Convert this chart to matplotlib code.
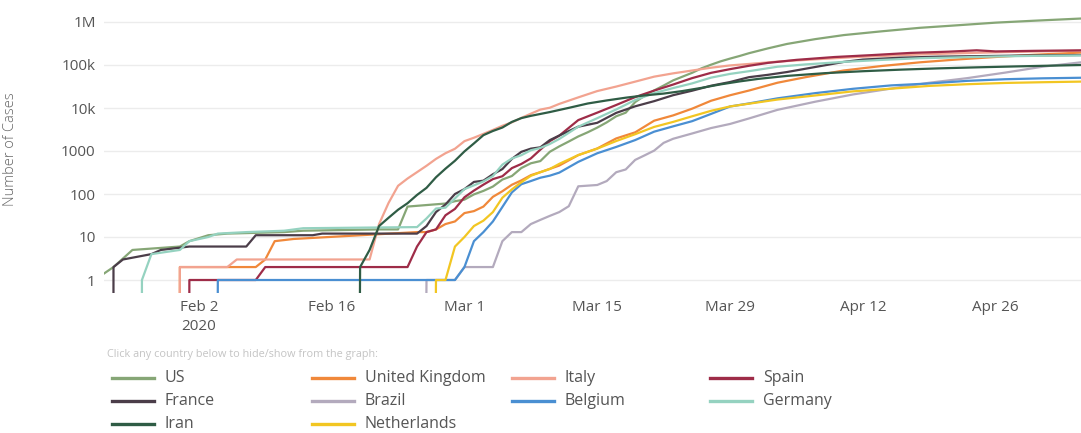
import matplotlib
matplotlib.use('Agg')
import matplotlib.pyplot as plt
import pandas as pd
from matplotlib.lines import Line2D
from matplotlib.ticker import NullLocator

plt.rcParams['font.family'] = ['Open Sans', 'DejaVu Sans']

# cumulative confirmed cases (log scale)
US_DATES = ['01-22', '01-24', '01-26', '01-31', '02-01', '02-03', '02-05', '02-11', '02-13', '02-21',
            '02-23', '02-24', '02-28', '02-29', '03-01', '03-02', '03-03', '03-04', '03-05', '03-06',
            '03-07', '03-08', '03-09', '03-10', '03-11', '03-12', '03-13', '03-14', '03-15', '03-16',
            '03-17', '03-18', '03-19', '03-20', '03-21', '03-22', '03-23', '03-24', '03-25', '03-26',
            '03-27', '03-28', '03-29', '03-30', '03-31', '04-02', '04-04', '04-07', '04-10', '04-14',
            '04-18', '04-22', '04-26', '04-30', '05-05']
US_CASES = [1, 2, 5, 6, 8, 11, 12, 13, 14, 15,
            15, 51, 60, 68, 74, 98, 118, 149, 217, 262,
            402, 518, 583, 959, 1281, 1663, 2179, 2727, 3499, 4632,
            6421, 7783, 13747, 19273, 25600, 33276, 43847, 53740, 65778, 83836,
            101657, 121478, 140886, 161807, 188172, 243622, 308650, 400335, 496535, 607670,
            732197, 839675, 965785, 1069424, 1204351]

UK_DATES = ['01-22', '01-31', '02-08', '02-09', '02-10', '02-12', '02-25', '02-26', '02-27', '02-28',
            '02-29', '03-01', '03-02', '03-03', '03-04', '03-05', '03-06', '03-07', '03-08', '03-09',
            '03-10', '03-11', '03-13', '03-15', '03-17', '03-19', '03-21', '03-23', '03-25', '03-27',
            '03-29', '03-31', '04-03', '04-06', '04-10', '04-14', '04-18', '04-22', '04-26', '04-30',
            '05-05']
UK_CASES = [0, 2, 2, 3, 8, 9, 13, 13, 15, 20,
            23, 36, 40, 51, 86, 116, 164, 207, 274, 322,
            384, 459, 802, 1145, 1960, 2716, 5067, 6726, 9640, 14745,
            19780, 25481, 38689, 52279, 74605, 94845, 115314, 134638, 153638, 172481,
            195000]

IT_DATES = ['01-22', '01-31', '02-05', '02-06', '02-20', '02-21', '02-22', '02-23', '02-24', '02-25',
            '02-26', '02-27', '02-28', '02-29', '03-01', '03-02', '03-03', '03-04', '03-05', '03-06',
            '03-07', '03-08', '03-09', '03-10', '03-11', '03-13', '03-15', '03-17', '03-19', '03-21',
            '03-23', '03-25', '03-27', '03-29', '03-31', '04-03', '04-07', '04-11', '04-15', '04-19',
            '04-23', '04-27', '05-01', '05-05']
IT_CASES = [0, 2, 2, 3, 3, 20, 62, 155, 229, 322,
            453, 655, 888, 1128, 1694, 2036, 2502, 3089, 3858, 4636,
            5883, 7375, 9172, 10149, 12462, 17660, 24747, 31506, 41035, 53578,
            63927, 74386, 86498, 97689, 105792, 119827, 135586, 152271, 165155, 178972,
            189973, 199414, 207428, 213013]

ES_DATES = ['01-22', '02-01', '02-08', '02-09', '02-24', '02-25', '02-26', '02-27', '02-28', '02-29',
            '03-01', '03-02', '03-03', '03-04', '03-05', '03-06', '03-07', '03-08', '03-09', '03-10',
            '03-11', '03-13', '03-15', '03-17', '03-19', '03-21', '03-23', '03-25', '03-27', '03-29',
            '03-31', '04-02', '04-05', '04-09', '04-13', '04-17', '04-21', '04-24', '04-26', '04-30',
            '05-05']
ES_CASES = [0, 1, 1, 2, 2, 6, 13, 15, 32, 45,
            84, 120, 165, 222, 259, 400, 500, 673, 1073, 1695,
            2277, 5232, 7798, 11748, 17963, 25374, 35136, 49515, 65719, 80110,
            95923, 112065, 131646, 153222, 170099, 190839, 204178, 219764, 207000, 213435,
            219329]

FR_DATES = ['01-22', '01-24', '01-25', '01-28', '01-29', '02-01', '02-07', '02-08', '02-14', '02-15',
            '02-25', '02-26', '02-27', '02-28', '02-29', '03-01', '03-02', '03-03', '03-04', '03-05',
            '03-06', '03-07', '03-08', '03-09', '03-10', '03-11', '03-13', '03-15', '03-17', '03-19',
            '03-21', '03-23', '03-25', '03-27', '03-29', '03-31', '04-02', '04-04', '04-07', '04-10',
            '04-12', '04-16', '04-20', '04-25', '04-30', '05-05']
FR_CASES = [0, 2, 3, 4, 5, 6, 6, 11, 11, 12,
            12, 18, 38, 57, 100, 130, 191, 204, 288, 380,
            656, 957, 1134, 1217, 1792, 2290, 3678, 4523, 7699, 10947,
            14431, 19856, 25233, 32964, 40174, 52128, 59105, 68605, 90000, 118000,
            133670, 147969, 156480, 161644, 167299, 170694]

BR_DATES = ['01-22', '02-26', '02-29', '03-01', '03-04', '03-05', '03-06', '03-07', '03-08', '03-09',
            '03-10', '03-11', '03-12', '03-13', '03-15', '03-16', '03-17', '03-18', '03-19', '03-20',
            '03-21', '03-22', '03-23', '03-25', '03-27', '03-29', '03-31', '04-03', '04-07', '04-11',
            '04-15', '04-19', '04-23', '04-27', '05-01', '05-05']
BR_CASES = [0, 1, 1, 2, 2, 8, 13, 13, 20, 25,
            31, 38, 52, 151, 162, 200, 321, 372, 621, 793,
            1021, 1546, 1924, 2554, 3417, 4256, 5717, 9056, 14034, 20727,
            28320, 38654, 49492, 66501, 91589, 115455]

BE_DATES = ['01-22', '02-04', '02-29', '03-01', '03-02', '03-03', '03-04', '03-05', '03-06', '03-07',
            '03-08', '03-09', '03-10', '03-11', '03-13', '03-15', '03-17', '03-19', '03-21', '03-23',
            '03-25', '03-27', '03-29', '03-31', '04-03', '04-07', '04-11', '04-15', '04-19', '04-23',
            '04-27', '05-01', '05-05']
BE_CASES = [0, 1, 1, 2, 8, 13, 23, 50, 109, 169,
            200, 239, 267, 314, 559, 886, 1243, 1795, 2815, 3743,
            4937, 7284, 10836, 12775, 16770, 22194, 28018, 33573, 37183, 42797,
            46687, 49032, 50509]

DE_DATES = ['01-22', '01-27', '01-28', '01-31', '02-01', '02-03', '02-04', '02-07', '02-11', '02-13',
            '02-25', '02-26', '02-27', '02-28', '02-29', '03-01', '03-02', '03-03', '03-04', '03-05',
            '03-06', '03-07', '03-08', '03-09', '03-10', '03-11', '03-13', '03-15', '03-17', '03-19',
            '03-21', '03-23', '03-25', '03-27', '03-29', '03-31', '04-03', '04-06', '04-10', '04-14',
            '04-18', '04-22', '04-26', '04-30', '05-05']
DE_CASES = [0, 1, 4, 5, 8, 10, 12, 13, 14, 16,
            17, 27, 46, 48, 79, 130, 159, 196, 262, 482,
            670, 799, 1040, 1176, 1457, 1908, 3675, 5795, 9257, 15320,
            22213, 29056, 37323, 50871, 62095, 71808, 91159, 103375, 118181, 131359,
            143724, 150648, 157770, 163009, 166940]

IR_DATES = ['01-22', '02-19', '02-20', '02-21', '02-22', '02-23', '02-24', '02-25', '02-26', '02-27',
            '02-28', '02-29', '03-01', '03-02', '03-03', '03-04', '03-05', '03-06', '03-07', '03-08',
            '03-10', '03-12', '03-14', '03-16', '03-18', '03-20', '03-22', '03-24', '03-26', '03-28',
            '03-30', '04-01', '04-04', '04-08', '04-12', '04-16', '04-20', '04-24', '04-28', '05-05']
IR_CASES = [0, 2, 5, 18, 28, 43, 61, 95, 139, 245,
            388, 593, 978, 1501, 2336, 2922, 3513, 4747, 5823, 6566,
            8042, 10075, 12729, 14991, 17361, 19644, 21638, 24811, 29406, 35408,
            41495, 47593, 55743, 64586, 71686, 77995, 83505, 88194, 92584, 99970]

NL_DATES = ['01-22', '02-27', '02-28', '02-29', '03-01', '03-02', '03-03', '03-04', '03-05', '03-06',
            '03-07', '03-08', '03-09', '03-10', '03-11', '03-13', '03-15', '03-17', '03-19', '03-21',
            '03-23', '03-25', '03-27', '03-29', '03-31', '04-03', '04-07', '04-11', '04-15', '04-19',
            '04-23', '04-27', '05-01', '05-05']
NL_CASES = [0, 1, 1, 6, 10, 18, 24, 38, 82, 128,
            188, 265, 321, 382, 503, 804, 1135, 1705, 2460, 3631,
            4749, 6412, 8603, 10866, 12595, 15723, 19580, 24413, 28153, 32655,
            35729, 38245, 39791, 41087]

COUNTRIES = ['US', 'United Kingdom', 'Italy', 'Spain', 'France',
             'Brazil', 'Belgium', 'Germany', 'Iran', 'Netherlands']
COLORS = ['#86a676', '#f0883a', '#f2a390', '#9e2c48', '#4b3d49',
          '#b3aabd', '#4a8fd2', '#95d2c0', '#2f5c45', '#f2c622']
SERIES = [(US_DATES, US_CASES), (UK_DATES, UK_CASES), (IT_DATES, IT_CASES),
          (ES_DATES, ES_CASES), (FR_DATES, FR_CASES), (BR_DATES, BR_CASES),
          (BE_DATES, BE_CASES), (DE_DATES, DE_CASES), (IR_DATES, IR_CASES),
          (NL_DATES, NL_CASES)]

TICK_DATES = ['2020-02-02', '2020-02-16', '2020-03-01', '2020-03-15',
              '2020-03-29', '2020-04-12', '2020-04-26']
TICK_LABELS = ['Feb 2\n2020', 'Feb 16', 'Mar 1', 'Mar 15', 'Mar 29', 'Apr 12', 'Apr 26']
Y_TICKS = [1, 10, 100, 1000, 1e4, 1e5, 1e6]
Y_LABELS = ['1', '10', '100', '1000', '10k', '100k', '1M']

W, H = 1081, 433
fig = plt.figure(figsize=(W / 100, H / 100), dpi=100)
ax = fig.add_axes([104 / W, 1 - 293 / H, (W - 104) / W, (293 - 5) / H])

for (dates, cases), col in zip(SERIES, COLORS):
    x = pd.to_datetime(['2020-' + d for d in dates])
    ax.plot(x, cases, color=col, lw=1.6, solid_joinstyle='round')

ax.set_yscale('log', nonpositive='clip')
ax.set_ylim(10 ** (-13 / 43), 10 ** (275 / 43))
ax.set_xlim(pd.Timestamp('2020-01-23'), pd.Timestamp('2020-05-05'))

ax.set_yticks(Y_TICKS)
ax.set_yticklabels(Y_LABELS)
ax.yaxis.set_minor_locator(NullLocator())
ax.set_xticks(pd.to_datetime(TICK_DATES))
ax.set_xticklabels(TICK_LABELS, linespacing=1.4)
ax.tick_params(length=0, labelsize=11, labelcolor='#555555')
ax.tick_params(axis='y', pad=6)
ax.tick_params(axis='x', pad=5)
for s in ax.spines.values():
    s.set_visible(False)
ax.grid(axis='y', color='#ececec', lw=1)
ax.set_axisbelow(True)
ax.set_ylabel('Number of Cases', fontsize=10.5, color='#666666', fontweight='light')
ax.yaxis.set_label_coords(-(104 - 18) / (W - 104), 0.5)

fig.text(107 / W, 1 - 355 / H, 'Click any country below to hide/show from the graph:',
         fontsize=7.8, color='#c4c4c4', va='center')

# legend laid out row by row, four columns
col_x = [112, 312, 512, 710]
row_y = [378, 401, 424]
for i, (name, col) in enumerate(zip(COUNTRIES, COLORS)):
    cx = col_x[i % 4]
    cy = row_y[i // 4]
    fig.add_artist(Line2D([cx / W, (cx + 42) / W], [1 - cy / H, 1 - cy / H],
                          transform=fig.transFigure, color=col, lw=2.4))
    fig.text((cx + 53) / W, 1 - cy / H, name, fontsize=11.5, color='#555555', va='center')

fig.savefig('out.png', dpi=100)
